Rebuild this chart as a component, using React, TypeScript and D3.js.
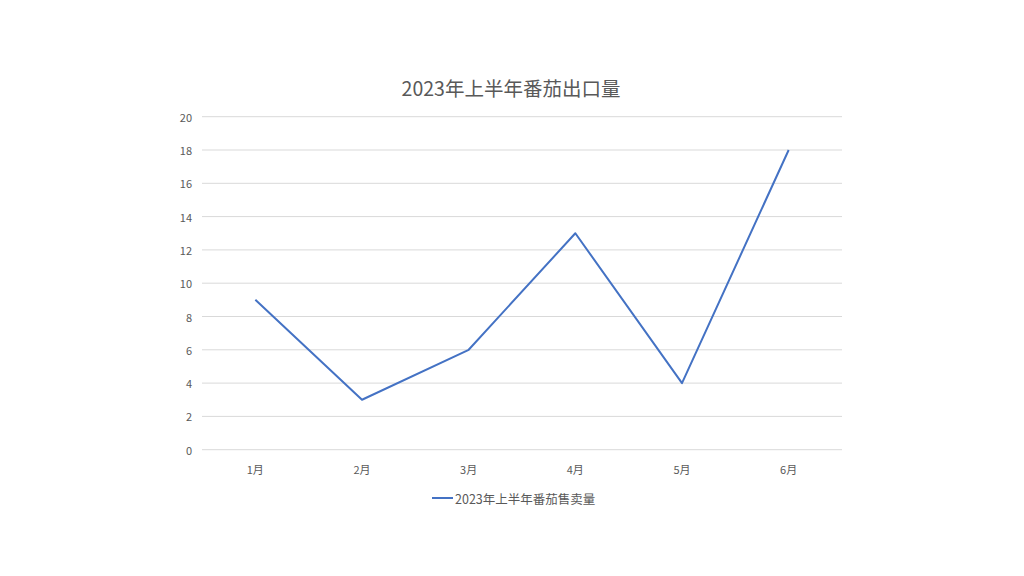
import React from "react";
import * as d3 from "d3";

const categories = ["1月", "2月", "3月", "4月", "5月", "6月"];
const values = [9, 3, 6, 13, 4, 18];
const yTicks = [0, 2, 4, 6, 8, 10, 12, 14, 16, 18, 20];
const title = "2023年上半年番茄出口量";
const seriesName = "2023年上半年番茄售卖量";

export default function App() {
  const W = 1024, H = 576;
  const left = 202, right = 842, top = 116.7, bottom = 449.7;
  const x = d3.scaleBand<string>().domain(categories).range([left, right]);
  const y = d3.scaleLinear().domain([0, 20]).range([bottom, top]);
  const line = d3
    .line<number>()
    .x((_, i) => (x(categories[i]) as number) + x.bandwidth() / 2)
    .y((d) => y(d));
  const font = "'Noto Sans CJK SC', 'Noto Sans', sans-serif";
  return (
    <svg
      width={W}
      height={H}
      style={{ position: "absolute", left: 0, top: 0, background: "#fff" }}
      fontFamily={font}
    >
      <rect width={W} height={H} fill="#fff" />
      <text x={511} y={87} textAnchor="middle" dominantBaseline="central" fontSize={19.5} fill="#595959">
        {title}
      </text>
      {yTicks.map((t) => (
        <g key={t}>
          <line x1={left} x2={right} y1={y(t)} y2={y(t)} stroke="#d9d9d9" strokeWidth={1} />
          <text x={192} y={y(t)} textAnchor="end" dominantBaseline="central" fontSize={11} fill="#595959">
            {t}
          </text>
        </g>
      ))}
      {categories.map((c) => (
        <text
          key={c}
          x={(x(c) as number) + x.bandwidth() / 2}
          y={469}
          textAnchor="middle"
          dominantBaseline="central"
          fontSize={11}
          fill="#595959"
        >
          {c}
        </text>
      ))}
      <path d={line(values) || ""} fill="none" stroke="#4472C4" strokeWidth={2} strokeLinejoin="round" />
      <line x1={432} x2={453} y1={498} y2={498} stroke="#4472C4" strokeWidth={2} />
      <text x={455} y={498} dominantBaseline="central" fontSize={12.5} fill="#595959">
        {seriesName}
      </text>
    </svg>
  );
}
